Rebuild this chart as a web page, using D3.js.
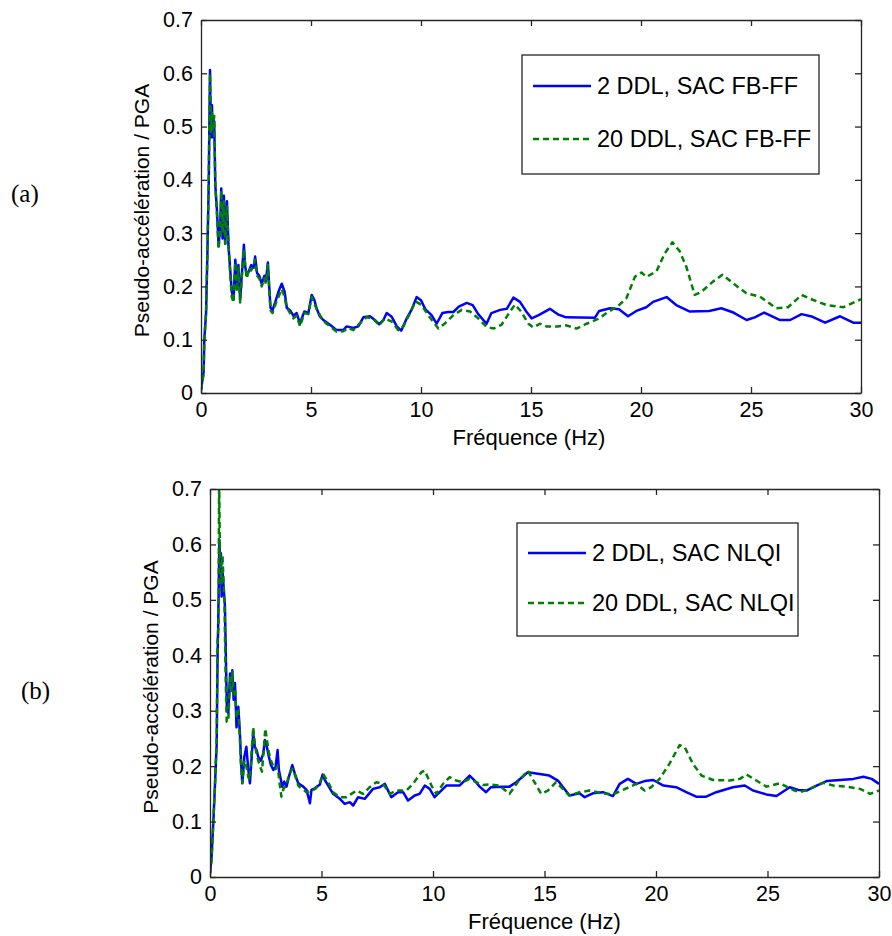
<!DOCTYPE html>
<html><head><meta charset="utf-8">
<script src="https://cdn.jsdelivr.net/npm/d3@7"></script>
<style>body{margin:0;background:#fff}svg{display:block}</style>
</head><body>
<script>
// ---- data ----
const xTicks = [0,5,10,15,20,25,30];
const yTicks = [0,0.1,0.2,0.3,0.4,0.5,0.6,0.7];
const legendA = ["2 DDL, SAC FB-FF","20 DDL, SAC FB-FF"];
const legendB = ["2 DDL, SAC NLQI","20 DDL, SAC NLQI"];
const panelLabels = ["(a)","(b)"];
const xLabel = "Fréquence (Hz)";
const yLabel = "Pseudo-accélération / PGA";

const a2ddl = [[0,0.005],[0.05,0.02],[0.12,0.04],[0.15,0.1],[0.23,0.15],[0.29,0.26],[0.35,0.39],[0.41,0.606],[0.45,0.48],[0.5,0.54],[0.53,0.48],[0.6,0.51],[0.65,0.39],[0.73,0.34],[0.8,0.275],[0.88,0.32],[0.92,0.384],[0.98,0.29],[1.04,0.37],[1.1,0.28],[1.18,0.36],[1.25,0.275],[1.33,0.23],[1.4,0.19],[1.48,0.175],[1.56,0.25],[1.63,0.2],[1.7,0.24],[1.78,0.175],[1.86,0.225],[1.95,0.278],[2.0,0.24],[2.08,0.22],[2.19,0.23],[2.28,0.24],[2.39,0.235],[2.46,0.256],[2.55,0.225],[2.65,0.22],[2.76,0.205],[2.88,0.22],[2.95,0.21],[3.04,0.245],[3.1,0.2],[3.16,0.16],[3.25,0.155],[3.37,0.17],[3.52,0.19],[3.67,0.205],[3.8,0.19],[3.9,0.16],[4.05,0.155],[4.2,0.145],[4.35,0.15],[4.5,0.13],[4.58,0.14],[4.7,0.153],[4.88,0.15],[5.03,0.184],[5.15,0.175],[5.26,0.158],[5.4,0.144],[5.56,0.137],[5.86,0.128],[6.17,0.118],[6.47,0.118],[6.62,0.125],[6.92,0.122],[7.15,0.125],[7.38,0.142],[7.68,0.144],[7.9,0.137],[8.1,0.129],[8.29,0.137],[8.44,0.15],[8.67,0.143],[8.9,0.125],[9.1,0.117],[9.35,0.14],[9.58,0.157],[9.8,0.18],[10.0,0.174],[10.2,0.157],[10.48,0.146],[10.71,0.13],[10.97,0.15],[11.24,0.152],[11.47,0.152],[11.72,0.162],[12.08,0.169],[12.35,0.165],[12.6,0.148],[12.98,0.13],[13.2,0.15],[13.6,0.156],[13.9,0.158],[14.2,0.179],[14.5,0.171],[14.8,0.152],[15.03,0.14],[15.35,0.146],[15.86,0.158],[16.25,0.147],[16.6,0.142],[17.9,0.141],[18.1,0.154],[18.6,0.159],[19.0,0.157],[19.41,0.144],[19.79,0.154],[20.24,0.161],[20.55,0.171],[21.16,0.18],[21.6,0.165],[22.2,0.153],[23.1,0.154],[23.65,0.159],[24.2,0.151],[24.8,0.137],[25.17,0.142],[25.6,0.151],[26.3,0.137],[26.78,0.137],[27.3,0.148],[27.8,0.143],[28.37,0.132],[29.05,0.144],[29.65,0.132],[30,0.132]];

const a20ddl = [[0,0.005],[0.05,0.02],[0.12,0.035],[0.15,0.1],[0.23,0.15],[0.29,0.26],[0.35,0.4],[0.41,0.6],[0.45,0.49],[0.5,0.53],[0.53,0.49],[0.6,0.52],[0.65,0.39],[0.73,0.33],[0.8,0.27],[0.88,0.31],[0.92,0.38],[0.98,0.3],[1.04,0.36],[1.1,0.28],[1.18,0.35],[1.25,0.28],[1.33,0.22],[1.4,0.18],[1.48,0.17],[1.56,0.245],[1.63,0.19],[1.7,0.235],[1.78,0.17],[1.86,0.22],[1.95,0.27],[2.0,0.245],[2.08,0.215],[2.19,0.235],[2.28,0.23],[2.39,0.24],[2.46,0.25],[2.55,0.22],[2.65,0.215],[2.76,0.2],[2.88,0.215],[2.95,0.205],[3.04,0.24],[3.1,0.195],[3.16,0.155],[3.25,0.15],[3.37,0.165],[3.52,0.18],[3.67,0.195],[3.8,0.18],[3.9,0.16],[4.05,0.15],[4.2,0.14],[4.35,0.145],[4.5,0.125],[4.58,0.135],[4.7,0.15],[4.88,0.148],[5.03,0.18],[5.26,0.157],[5.56,0.135],[5.86,0.125],[6.17,0.115],[6.47,0.116],[6.7,0.122],[6.92,0.118],[7.23,0.131],[7.53,0.142],[7.83,0.14],[8.1,0.127],[8.36,0.14],[8.67,0.134],[8.97,0.118],[9.2,0.125],[9.5,0.15],[9.75,0.172],[10.0,0.166],[10.4,0.142],[10.79,0.121],[11.1,0.131],[11.47,0.146],[11.85,0.156],[12.23,0.153],[12.6,0.14],[12.98,0.124],[13.3,0.121],[13.66,0.128],[14.05,0.153],[14.27,0.166],[14.55,0.153],[14.88,0.13],[15.1,0.123],[15.4,0.13],[15.7,0.125],[16.2,0.125],[16.6,0.127],[17.07,0.121],[17.53,0.13],[18.05,0.139],[18.5,0.152],[18.95,0.163],[19.34,0.178],[19.72,0.218],[20.02,0.226],[20.25,0.218],[20.7,0.228],[21.08,0.262],[21.43,0.283],[21.76,0.266],[22.06,0.237],[22.44,0.184],[22.75,0.19],[23.27,0.209],[23.7,0.222],[24.18,0.206],[24.79,0.187],[25.4,0.181],[26.15,0.159],[26.68,0.161],[27.3,0.184],[27.8,0.175],[28.44,0.165],[29.2,0.161],[30,0.176]];

const b2ddl = [[0,0.006],[0.07,0.036],[0.15,0.1],[0.22,0.163],[0.3,0.24],[0.34,0.4],[0.37,0.46],[0.42,0.608],[0.46,0.554],[0.49,0.584],[0.52,0.506],[0.57,0.548],[0.61,0.524],[0.67,0.488],[0.72,0.38],[0.76,0.3],[0.82,0.295],[0.9,0.367],[0.94,0.343],[1.0,0.373],[1.06,0.32],[1.12,0.35],[1.19,0.27],[1.27,0.307],[1.34,0.26],[1.39,0.21],[1.45,0.169],[1.54,0.217],[1.63,0.235],[1.72,0.193],[1.79,0.169],[1.87,0.217],[1.94,0.259],[2.01,0.235],[2.09,0.229],[2.16,0.217],[2.28,0.21],[2.39,0.223],[2.46,0.247],[2.55,0.235],[2.64,0.217],[2.73,0.202],[2.84,0.193],[2.94,0.199],[3.03,0.229],[3.09,0.193],[3.18,0.175],[3.24,0.163],[3.33,0.172],[3.43,0.163],[3.54,0.181],[3.69,0.202],[3.8,0.187],[3.96,0.169],[4.18,0.163],[4.33,0.157],[4.48,0.133],[4.55,0.157],[4.7,0.16],[4.93,0.167],[5.05,0.185],[5.15,0.175],[5.3,0.165],[5.52,0.15],[5.82,0.141],[6.04,0.132],[6.27,0.135],[6.42,0.129],[6.64,0.144],[6.94,0.141],[7.31,0.159],[7.61,0.162],[7.84,0.168],[8.13,0.144],[8.43,0.153],[8.66,0.153],[8.88,0.138],[9.18,0.147],[9.4,0.15],[9.63,0.165],[9.85,0.159],[10.07,0.144],[10.3,0.153],[10.6,0.165],[11.19,0.165],[11.42,0.174],[11.64,0.183],[11.87,0.174],[12.09,0.163],[12.38,0.153],[12.6,0.162],[13.13,0.163],[13.43,0.163],[13.73,0.171],[14.25,0.189],[14.78,0.186],[15.22,0.183],[15.6,0.174],[16.12,0.147],[16.57,0.151],[16.8,0.144],[17.17,0.151],[17.62,0.153],[18.07,0.146],[18.37,0.168],[18.74,0.177],[19.12,0.168],[19.49,0.173],[19.88,0.175],[20.33,0.165],[20.9,0.162],[21.36,0.153],[21.8,0.145],[22.25,0.145],[22.7,0.153],[23.45,0.162],[23.98,0.165],[24.35,0.156],[24.95,0.149],[25.4,0.146],[26.0,0.162],[26.38,0.157],[26.75,0.156],[27.2,0.165],[27.65,0.173],[28.25,0.175],[28.85,0.177],[29.3,0.181],[29.67,0.177],[30,0.168]];

const b20ddl = [[0,0.006],[0.07,0.03],[0.15,0.1],[0.22,0.165],[0.3,0.25],[0.34,0.43],[0.38,0.45],[0.41,0.72],[0.44,0.6],[0.48,0.56],[0.52,0.53],[0.56,0.58],[0.6,0.54],[0.65,0.49],[0.7,0.36],[0.75,0.28],[0.82,0.28],[0.9,0.36],[0.96,0.33],[1.0,0.37],[1.06,0.33],[1.12,0.34],[1.19,0.29],[1.27,0.3],[1.34,0.25],[1.39,0.2],[1.45,0.17],[1.54,0.21],[1.63,0.2],[1.72,0.18],[1.79,0.175],[1.87,0.23],[1.94,0.27],[2.01,0.24],[2.1,0.22],[2.2,0.205],[2.33,0.19],[2.4,0.225],[2.48,0.268],[2.56,0.245],[2.64,0.225],[2.73,0.21],[2.84,0.2],[2.94,0.195],[3.03,0.2],[3.12,0.17],[3.2,0.145],[3.3,0.16],[3.43,0.165],[3.54,0.185],[3.69,0.195],[3.8,0.185],[3.96,0.165],[4.03,0.162],[4.33,0.153],[4.55,0.155],[4.75,0.16],[4.93,0.171],[5.07,0.186],[5.3,0.171],[5.52,0.153],[5.82,0.144],[6.12,0.144],[6.34,0.15],[6.57,0.156],[6.87,0.15],[7.16,0.162],[7.46,0.171],[7.76,0.168],[8.06,0.15],[8.36,0.156],[8.81,0.156],[9.1,0.168],[9.48,0.189],[9.63,0.192],[9.93,0.165],[10.15,0.15],[10.45,0.168],[10.75,0.18],[11.04,0.174],[11.34,0.171],[11.64,0.177],[11.94,0.171],[12.24,0.166],[12.54,0.167],[12.98,0.165],[13.43,0.15],[13.8,0.171],[14.25,0.192],[14.55,0.171],[14.85,0.15],[15.15,0.156],[15.52,0.171],[16.12,0.147],[16.57,0.153],[17.02,0.156],[17.62,0.151],[18.07,0.149],[18.52,0.157],[19.12,0.168],[19.49,0.156],[19.79,0.162],[20.16,0.177],[20.6,0.204],[21.06,0.238],[21.29,0.234],[21.66,0.204],[22.04,0.183],[22.56,0.175],[23.31,0.174],[23.76,0.177],[24.06,0.185],[24.5,0.174],[24.95,0.163],[25.55,0.169],[26.15,0.157],[26.45,0.153],[26.9,0.159],[27.5,0.17],[27.95,0.165],[28.55,0.163],[29.15,0.159],[29.6,0.15],[30,0.156]];

// ---- layout ----
const W = 892, H = 936;
const FONT = "'Liberation Sans', Arial, sans-serif";
const panels = [
  {x0:201, x1:861, y0:20, y1:393, series:[a2ddl,a20ddl], legend:legendA,
   leg:{x:522,y:55,w:297,h:119,ly:[86,139]}, label:panelLabels[0], lx:11, ly:202, ylx:143},
  {x0:210, x1:879, y0:489, y1:877, series:[b2ddl,b20ddl], legend:legendB,
   leg:{x:517,y:523,w:281,h:113,ly:[553,603]}, label:panelLabels[1], lx:21, ly:699, ylx:152}
];
const colors = ["#0000ff","#008000"];
const dashes = [null,"6,4"];

const svg = d3.select("body").append("svg").attr("width",W).attr("height",H);

panels.forEach((p,i)=>{
  const x = d3.scaleLinear().domain([0,30]).range([p.x0,p.x1]);
  const y = d3.scaleLinear().domain([0,0.7]).range([p.y1,p.y0]);
  const g = svg.append("g");
  const clipId = "clip"+i;
  svg.append("clipPath").attr("id",clipId).append("rect")
    .attr("x",p.x0).attr("y",p.y0).attr("width",p.x1-p.x0).attr("height",p.y1-p.y0);

  const line = d3.line().x(d=>x(d[0])).y(d=>y(d[1]));
  p.series.forEach((s,k)=>{
    g.append("path").datum(s).attr("d",line).attr("clip-path",`url(#${clipId})`)
      .attr("fill","none").attr("stroke",colors[k]).attr("stroke-width",2.5)
      .attr("stroke-linejoin","round")
      .attr("stroke-dasharray",dashes[k]);
  });

  // axes (MATLAB box style, inward ticks)
  const tk = 6;
  const axB = d3.axisBottom(x).tickValues(xTicks).tickSizeInner(-tk).tickSizeOuter(0).tickPadding(9).tickFormat(d3.format("d"));
  const axT = d3.axisTop(x).tickValues(xTicks).tickSizeInner(-tk).tickSizeOuter(0).tickFormat("");
  const axL = d3.axisLeft(y).tickValues(yTicks).tickSizeInner(-tk).tickSizeOuter(0).tickPadding(8).tickFormat(d=>d===0?"0":d3.format(".1f")(d));
  const axR = d3.axisRight(y).tickValues(yTicks).tickSizeInner(-tk).tickSizeOuter(0).tickFormat("");
  const sty = sel=>{sel.selectAll("path,line").attr("stroke","#262626").attr("stroke-width",1.3);
    sel.selectAll("text").attr("font-family",FONT).attr("font-size",21.5).attr("fill","#000");};
  g.append("g").attr("transform",`translate(0,${p.y1})`).call(axB).call(sty);
  g.append("g").attr("transform",`translate(0,${p.y0})`).call(axT).call(sty);
  g.append("g").attr("transform",`translate(${p.x0},0)`).call(axL).call(sty);
  g.append("g").attr("transform",`translate(${p.x1},0)`).call(axR).call(sty);

  // axis labels
  g.append("text").attr("x",(p.x0+p.x1)/2+(i?0:-2)).attr("y",p.y1+52).attr("text-anchor","middle")
    .attr("font-family",FONT).attr("font-size",22).text(xLabel);
  g.append("text").attr("transform",`translate(${p.ylx},${(p.y0+p.y1)/2+4}) rotate(-90)`)
    .attr("text-anchor","middle").attr("dominant-baseline","middle")
    .attr("font-family",FONT).attr("font-size",21).text(yLabel);

  // panel label
  g.append("text").attr("x",p.lx).attr("y",p.ly).attr("font-family","'Liberation Serif','Times New Roman',serif")
    .attr("font-size",25).text(p.label);

  // legend
  const L = p.leg;
  g.append("rect").attr("x",L.x).attr("y",L.y).attr("width",L.w).attr("height",L.h)
    .attr("fill","#fff").attr("stroke","#262626").attr("stroke-width",1.3);
  p.legend.forEach((t,k)=>{
    g.append("line").attr("x1",L.x+11).attr("x2",L.x+69).attr("y1",L.ly[k]).attr("y2",L.ly[k])
      .attr("stroke",colors[k]).attr("stroke-width",2.5).attr("stroke-dasharray",dashes[k]);
    g.append("text").attr("x",L.x+75).attr("y",L.ly[k]).attr("dominant-baseline","central")
      .attr("font-family",FONT).attr("font-size",23.5).text(t);
  });
});
</script>
</body></html>
